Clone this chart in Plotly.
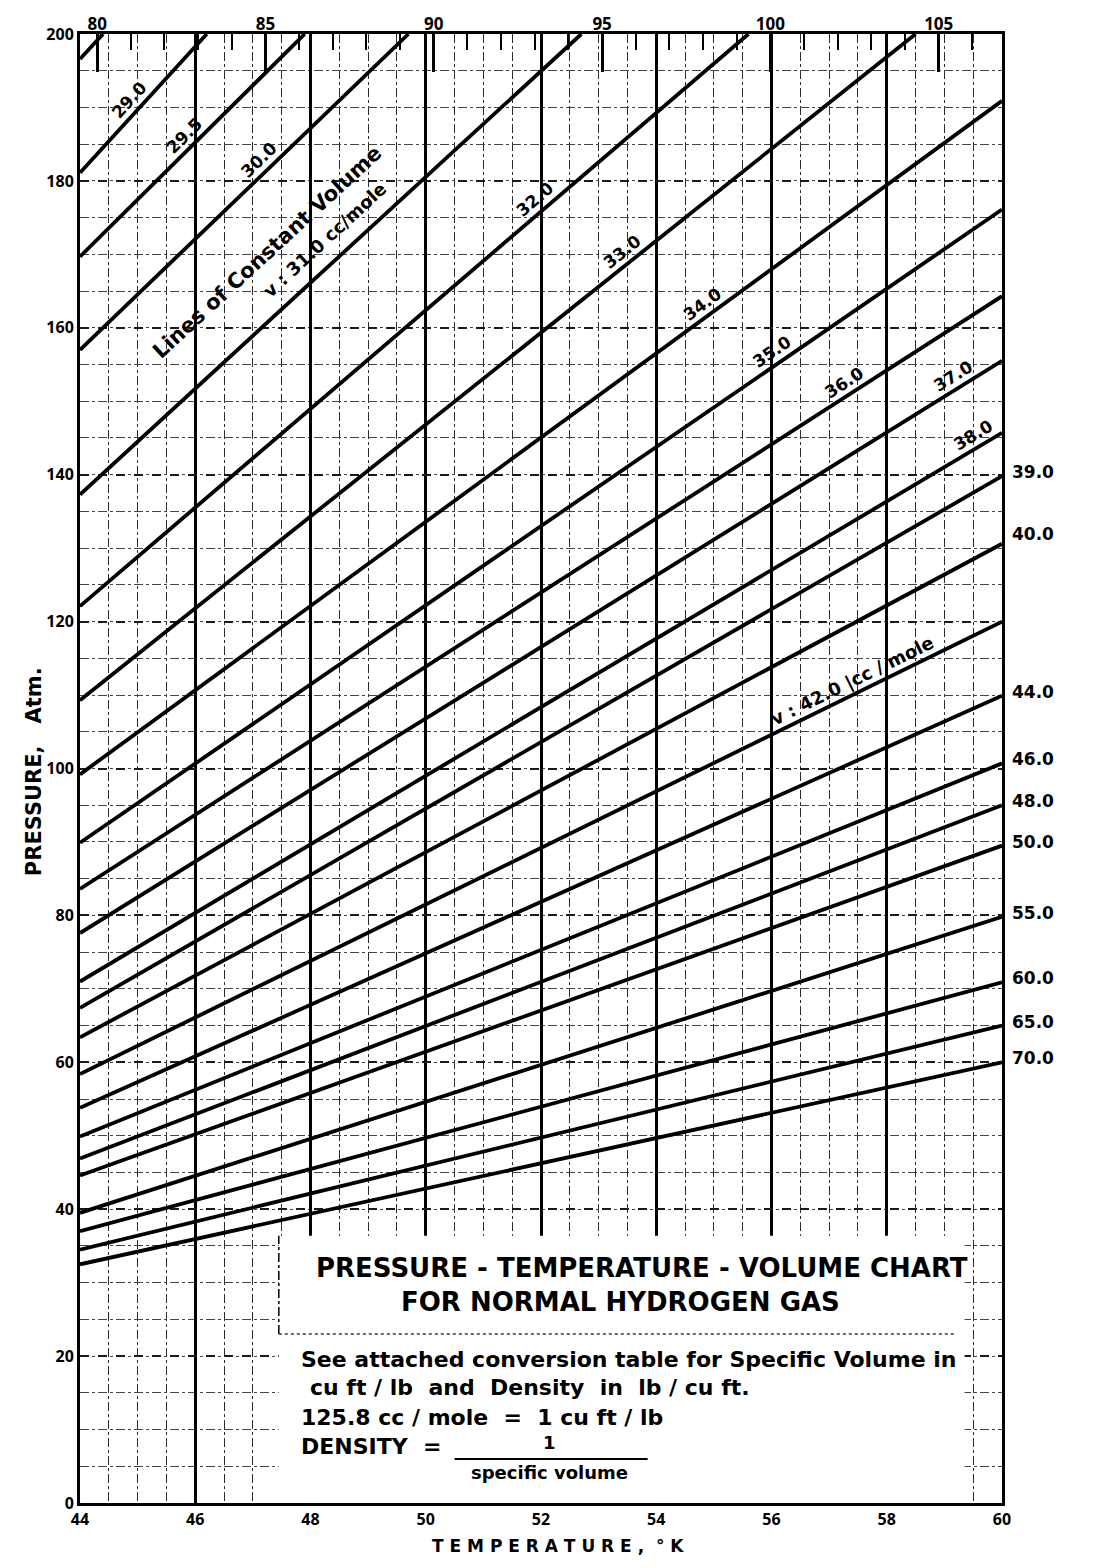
import math
import plotly.graph_objects as go

# ---------------- data ----------------
volume_labels = ["", "29.0", "29.5", "30.0", "31.0", "32.0", "33.0", "34.0", "35.0",
                 "36.0", "37.0", "38.0", "39.0", "40.0", "42.0", "44.0", "46.0",
                 "48.0", "50.0", "55.0", "60.0", "65.0", "70.0"]
# pressure (atm) where each constant-volume line meets T = 44 K
p_at_44 = [196.6, 181.1, 169.7, 157.0, 137.3, 122.1, 109.3, 99.2, 89.9,
           83.6, 77.6, 71.0, 67.4, 63.4, 58.4, 53.8, 49.9,
           46.9, 44.6, 39.5, 37.0, 34.5, 32.5]
# end point of each line (either the top edge, 200 atm, or T = 60 K)
t_end = [44.4, 46.2, 47.9, 49.7, 52.7, 55.6, 58.5, 60, 60,
         60, 60, 60, 60, 60, 60, 60, 60,
         60, 60, 60, 60, 60, 60]
p_end = [200, 200, 200, 200, 200, 200, 200, 190.9, 176.1,
         164.3, 155.5, 145.7, 139.8, 130.6, 120.0, 109.9, 100.7,
         95.0, 89.5, 79.8, 70.9, 65.0, 60.0]

right_labels = ["39.0", "40.0", "44.0", "46.0", "48.0", "50.0", "55.0", "60.0", "65.0", "70.0"]
inline_labels = ["29.0", "29.5", "30.0", "32.0", "33.0", "34.0", "35.0", "36.0", "37.0", "38.0"]
inline_label_t = [44.85, 45.8, 47.1, 51.9, 53.4, 54.8, 56.0, 57.25, 59.15, 59.5]

bottom_ticks = [44, 46, 48, 50, 52, 54, 56, 58, 60]
top_ticks = [80, 85, 90, 95, 100, 105]
y_ticks = [0, 20, 40, 60, 80, 100, 120, 140, 160, 180, 200]

# ---------------- layout geometry ----------------
W, H = 1106, 1568
ML, MR, MT, MB = 80, 104, 30, 65
pw, ph = W - ML - MR, H - MT - MB
px_per_K = pw / 16.0
px_per_atm = ph / 200.0

FONT = "Open Sans"
BOX_FONT = "DejaVu Sans"

fig = go.Figure()

for i in range(len(volume_labels)):
    fig.add_trace(go.Scatter(
        x=[44, t_end[i]], y=[p_at_44[i], p_end[i]], mode="lines",
        line=dict(color="black", width=3.8), showlegend=False, hoverinfo="skip"))

# invisible trace for the top temperature scale
fig.add_trace(go.Scatter(x=[80, 105], y=[0, 0], xaxis="x2", yaxis="y", mode="markers",
                         marker=dict(opacity=0), showlegend=False, hoverinfo="skip"))

annotations = []


def line_geom(lab):
    i = volume_labels.index(lab)
    s = (p_end[i] - p_at_44[i]) / (t_end[i] - 44)
    ang = math.degrees(math.atan(s * px_per_atm / px_per_K))
    return i, s, ang


def along(lab, t, d, txt, size, family=BOX_FONT):
    """text parallel to a line, centred at temperature t, d px above it"""
    i, s, ang = line_geom(lab)
    p = p_at_44[i] + s * (t - 44)
    a = math.radians(ang)
    return dict(x=t, y=p, xref="x", yref="y", text="<b>%s</b>" % txt,
                showarrow=False, textangle=-ang, yshift=d / math.cos(a),
                font=dict(family=family, size=size, color="black"))


for lab, t in zip(inline_labels, inline_label_t):
    annotations.append(along(lab, t, 13, lab, 17))

annotations.append(along("31.0", 47.25, 52, "Lines of Constant Volume", 21))
annotations.append(along("31.0", 48.25, 22, "v : 31.0 cc/mole", 18))
annotations.append(along("42.0", 57.4, 13, "v : 42.0 |cc / mole", 18))

# labels outside the right edge
for lab in right_labels:
    i = volume_labels.index(lab)
    annotations.append(dict(x=60, y=p_end[i], xref="x", yref="y", text="<b>%s</b>" % lab,
                            showarrow=False, xanchor="left", xshift=8,
                            yshift=(10 if lab == "40.0" else 4),
                            font=dict(family=BOX_FONT, size=17, color="black")))

# axis titles
annotations.append(dict(x=0, y=99.5, xref="paper", yref="y", text="<b>PRESSURE,   Atm.</b>",
                        showarrow=False, textangle=-90, xshift=-60,
                        font=dict(family=BOX_FONT, size=21, color="black")))
annotations.append(dict(x=52.3, y=0, xref="x", yref="y",
                        text="<b>T E M P E R A T U R E ,  ° K</b>",
                        showarrow=False, yshift=-43,
                        font=dict(family=BOX_FONT, size=17, color="black")))

# info box texts
annotations += [
    dict(x=53.75, y=32.0, xref="x", yref="y", text="<b>PRESSURE - TEMPERATURE - VOLUME CHART</b>",
         showarrow=False, font=dict(family=BOX_FONT, size=26, color="black")),
    dict(x=53.38, y=27.3, xref="x", yref="y", text="<b>FOR NORMAL HYDROGEN GAS</b>",
         showarrow=False, font=dict(family=BOX_FONT, size=26, color="black")),
    dict(x=47.8, y=19.6, xref="x", yref="y", xanchor="left",
         text="<b>See attached conversion table for Specific Volume in</b>",
         showarrow=False, font=dict(family=BOX_FONT, size=22, color="black")),
    dict(x=47.95, y=15.7, xref="x", yref="y", xanchor="left",
         text="<b>cu ft / lb  and  Density  in  lb / cu ft.</b>",
         showarrow=False, font=dict(family=BOX_FONT, size=22, color="black")),
    dict(x=47.8, y=11.7, xref="x", yref="y", xanchor="left",
         text="<b>125.8 cc / mole  =  1 cu ft / lb</b>",
         showarrow=False, font=dict(family=BOX_FONT, size=22, color="black")),
    dict(x=47.8, y=7.7, xref="x", yref="y", xanchor="left",
         text="<b>DENSITY  =</b>",
         showarrow=False, font=dict(family=BOX_FONT, size=22, color="black")),
    dict(x=52.15, y=8.3, xref="x", yref="y", text="<b>1</b>",
         showarrow=False, font=dict(family=BOX_FONT, size=18, color="black")),
    dict(x=52.15, y=4.2, xref="x", yref="y", text="<b>specific volume</b>",
         showarrow=False, font=dict(family=BOX_FONT, size=18, color="black")),
]

shapes = [
    # white info box
    dict(type="rect", xref="x", yref="y", x0=47.45, x1=59.35, y0=0, y1=36.4,
         fillcolor="white", line=dict(width=0), layer="between"),
    dict(type="line", xref="x", yref="y", x0=47.45, x1=47.45, y0=23.0, y1=36.4,
         line=dict(color="black", width=1.5, dash="dashdot"), layer="between"),
    dict(type="line", xref="x", yref="y", x0=47.45, x1=59.2, y0=23.0, y1=23.0,
         line=dict(color="#333", width=1.5, dash="dot"), layer="between"),
    # fraction bar
    dict(type="line", xref="x", yref="y", x0=50.5, x1=53.85, y0=6.0, y1=6.0,
         line=dict(color="black", width=2), layer="above"),
]

tickfont = dict(family=FONT, size=16, color="black", weight="bold")

fig.update_layout(
    width=W, height=H, margin=dict(l=ML, r=MR, t=MT, b=MB),
    paper_bgcolor="white", plot_bgcolor="white",
    showlegend=False, annotations=annotations, shapes=shapes,
    xaxis=dict(range=[44, 60], tickvals=bottom_ticks, ticks="", tickfont=tickfont,
               showgrid=True, gridcolor="black", gridwidth=2.5,
               minor=dict(dtick=0.5, showgrid=True, gridcolor="#2a2a2a", gridwidth=1.4,
                          griddash="dashdot"),
               showline=True, linecolor="black", linewidth=3, mirror=True,
               zeroline=False, fixedrange=True),
    xaxis2=dict(range=[79.49, 106.88], overlaying="x", side="top", tickvals=top_ticks,
                ticks="inside", ticklen=38, tickwidth=3, tickcolor="black",
                minor=dict(dtick=1, ticks="inside", ticklen=16, tickwidth=2, tickcolor="black"),
                tickfont=dict(family=FONT, size=17, color="black", weight="bold"),
                showgrid=False, zeroline=False, showline=False),
    yaxis=dict(range=[0, 200], tickvals=y_ticks, ticks="", tickfont=tickfont,
               showgrid=True, gridcolor="#1a1a1a", gridwidth=1.7, griddash="dash",
               minor=dict(dtick=5, showgrid=True, gridcolor="#444", gridwidth=1.2,
                          griddash="dashdot"),
               showline=True, linecolor="black", linewidth=3, mirror=True,
               zeroline=False, fixedrange=True),
)

fig.write_html("out.html")
